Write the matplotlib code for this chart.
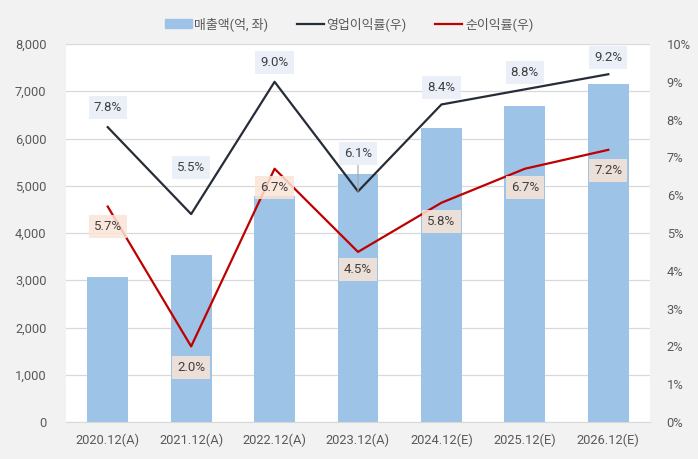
import matplotlib
matplotlib.use("Agg")
import matplotlib.pyplot as plt
from matplotlib.patches import Patch
from matplotlib.lines import Line2D

plt.rcParams['font.family'] = ['Roboto', 'Noto Sans CJK KR', 'DejaVu Sans']

categories = ["2020.12(A)", "2021.12(A)", "2022.12(A)", "2023.12(A)", "2024.12(E)", "2025.12(E)", "2026.12(E)"]
sales = [3070, 3540, 4780, 5250, 6220, 6690, 7150]
op_margin = [7.8, 5.5, 9.0, 6.1, 8.4, 8.8, 9.2]
net_margin = [5.7, 2.0, 6.7, 4.5, 5.8, 6.7, 7.2]

# label offsets in pixels (style)
op_off = [20, 47, 19, 38, 17, 17, 17]
net_off = [-20, -21, -19, -18, -19, -19, -21]

fig = plt.figure(figsize=(6.98, 4.59), dpi=100)
fig.patch.set_facecolor('#f2f2f2')
ax = fig.add_axes([66/698, 1-422/459, (650-66)/698, (422-44)/459])
ax.set_facecolor('white')
x = list(range(len(categories)))
ax.bar(x, sales, width=0.49, color='#9dc3e6', zorder=2)
ax.set_ylim(0, 8000)
ax.set_xlim(-0.5, len(categories)-0.5)
ax.set_yticks(range(0, 8001, 1000))
ax.set_yticklabels([f"{v:,}" for v in range(0, 8001, 1000)])
ax.grid(axis='y', color='#d9d9d9', linewidth=0.9, zorder=0)
ax.set_xticks(x)
ax.set_xticklabels(categories)
for s in ['top', 'right', 'left']:
    ax.spines[s].set_visible(False)
ax.spines['bottom'].set_color('#d9d9d9')
ax.tick_params(axis='both', length=0, labelsize=9.3, colors='#595959', pad=8)
ax.tick_params(axis='y', pad=14)

ax2 = ax.twinx()
ax2.set_ylim(0, 10)
ax2.set_yticks(range(0, 11))
ax2.set_yticklabels([f"{v}%" for v in range(0, 11)])
for s in ax2.spines.values():
    s.set_visible(False)
ax2.tick_params(axis='y', length=0, labelsize=9.3, colors='#595959', pad=12)

ax2.plot(x, op_margin, color='#262d38', linewidth=1.6, zorder=3)
ax2.plot(x, net_margin, color='#c00000', linewidth=1.6, zorder=3)

for i, v in enumerate(op_margin):
    kw = {}
    if i == 3:
        kw = dict(arrowprops=dict(arrowstyle='-', color='#a6a6a6', lw=0.8, shrinkA=0, shrinkB=0))
    ax2.annotate(f"{v:.1f}%", (i, v), xytext=(0, op_off[i]), textcoords='offset pixels',
                 ha='center', va='center', fontsize=9.5, color='#404040',
                 bbox=dict(boxstyle='square,pad=0.38', fc='#e9eef8', ec='none', alpha=0.9), zorder=5, **kw)
for i, v in enumerate(net_margin):
    ax2.annotate(f"{v:.1f}%", (i, v), xytext=(0, net_off[i]), textcoords='offset pixels',
                 ha='center', va='center', fontsize=9.5, color='#404040',
                 bbox=dict(boxstyle='square,pad=0.38', fc='#fbe5d6', ec='none', alpha=0.85), zorder=5)

handles = [Patch(color='#9dc3e6'), Line2D([], [], color='#262d38', lw=1.6), Line2D([], [], color='#c00000', lw=1.6)]
labels = ["매출액(억, 좌)", "영업이익률(우)", "순이익률(우)"]
fig.legend(handles, labels, loc='center', bbox_to_anchor=(0.5, 1-24/459), ncol=3, frameon=False,
           fontsize=9.3, labelcolor='#595959', handlelength=2.1, handleheight=0.6, columnspacing=2.2, handletextpad=0.2)

fig.savefig('out.png', dpi=100, facecolor=fig.get_facecolor())
